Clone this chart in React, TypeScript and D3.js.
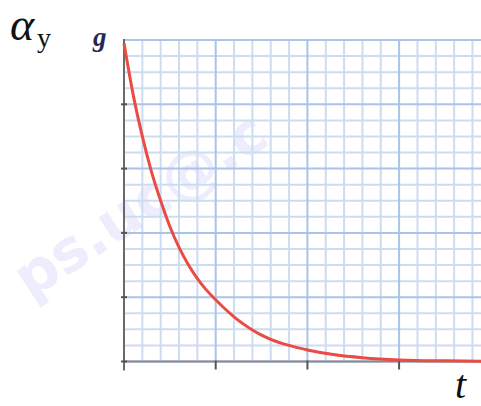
import React from "react";
import * as d3 from "d3";

const W = 481;
const H = 406;

// time in major-grid units, acceleration as fraction of g
const tValues = [0, 0.1, 0.2, 0.3, 0.4, 0.5, 0.6, 0.7, 0.8, 0.9, 1.0, 1.1, 1.2, 1.3, 1.4, 1.5, 1.6, 1.8, 2.0, 2.3, 2.6, 3.0, 3.5, 3.9];
const ayValues = [0.99, 0.83, 0.7, 0.59, 0.5, 0.42, 0.355, 0.302, 0.258, 0.222, 0.192, 0.164, 0.139, 0.117, 0.098, 0.082, 0.069, 0.05, 0.036, 0.021, 0.012, 0.005, 0.002, 0.001];

const xMajorTicks = [0, 1, 2, 3];
const yMajorTicks = [0, 0.2, 0.4, 0.6, 0.8, 1];

const yLabel = "α";
const ySub = "y";
const gLabel = "g";
const xLabel = "t";

export default function App() {
  const x = d3.scaleLinear().domain([0, 3.893]).range([124, 481]);
  const y = d3.scaleLinear().domain([0, 1]).range([361.5, 40]);

  const xMinor = d3.range(0, 3.9, 0.2);
  const yMinor = d3.range(0, 1.0001, 0.05);

  const line = d3
    .line<number>()
    .x((_, i) => x(tValues[i]))
    .y((d) => y(d))
    .curve(d3.curveMonotoneX);

  const isMajorX = (v: number) => Math.abs(v - Math.round(v)) < 1e-6;
  const isMajorY = (v: number) => Math.abs(v * 5 - Math.round(v * 5)) < 1e-6;

  return (
    <svg
      width={W}
      height={H}
      style={{ position: "absolute", left: 0, top: 0, background: "#fff" }}
    >
      {/* watermark */}
      <text
        x={0}
        y={0}
        transform="translate(30,300) rotate(-33)"
        fontFamily="DejaVu Sans, sans-serif"
        fontWeight="bold"
        fontSize={58}
        fill="#e4e4fc"
        opacity={0.65}
      >
        ps.uc@.c
      </text>

      {/* minor grid */}
      {xMinor.filter((v) => !isMajorX(v)).map((v, i) => (
        <line key={"xm" + i} x1={x(v)} x2={x(v)} y1={y(1)} y2={y(0)} stroke="#cddcf1" strokeWidth={2} />
      ))}
      {yMinor.filter((v) => !isMajorY(v)).map((v, i) => (
        <line key={"ym" + i} x1={x(0)} x2={W} y1={y(v)} y2={y(v)} stroke="#cddcf1" strokeWidth={2} />
      ))}
      {/* major grid */}
      {xMinor.filter((v) => isMajorX(v)).map((v, i) => (
        <line key={"xM" + i} x1={x(v)} x2={x(v)} y1={y(1)} y2={y(0)} stroke="#a8c4e8" strokeWidth={2} />
      ))}
      {yMinor.filter((v) => isMajorY(v)).map((v, i) => (
        <line key={"yM" + i} x1={x(0)} x2={W} y1={y(v)} y2={y(v)} stroke="#a8c4e8" strokeWidth={2} />
      ))}

      {/* axes */}
      <line x1={x(0)} x2={W} y1={y(0)} y2={y(0)} stroke="#8a8a8a" strokeWidth={2} />
      <line x1={x(0)} x2={x(0)} y1={y(1) - 1} y2={y(0) + 9} stroke="#6a6a6a" strokeWidth={2} />
      {yMajorTicks.slice(0, -1).map((v, i) => (
        <line key={"yt" + i} x1={x(0) - 3} x2={x(0) + 3} y1={y(v)} y2={y(v)} stroke="#555" strokeWidth={2} />
      ))}
      {xMajorTicks.slice(1).map((v, i) => (
        <line key={"xt" + i} x1={x(v)} x2={x(v)} y1={y(0) - 1} y2={y(0) + 8} stroke="#555" strokeWidth={2} />
      ))}

      {/* curve */}
      <path d={line(ayValues) || ""} fill="none" stroke="#ea4b43" strokeWidth={3} />

      {/* labels */}
      <text x={10} y={40} fontFamily="Liberation Serif, serif" fontStyle="italic" fontSize={46} fill="#111">
        {yLabel}
      </text>
      <text x={37} y={47} fontFamily="Liberation Serif, serif" fontSize={28} fill="#111">
        {ySub}
      </text>
      <text x={93} y={46} fontFamily="Liberation Serif, serif" fontStyle="italic" fontWeight="bold" fontSize={27} fill="#1f2a55">
        {gLabel}
      </text>
      <text x={455} y={398} fontFamily="Liberation Serif, serif" fontStyle="italic" fontSize={40} fill="#111">
        {xLabel}
      </text>
    </svg>
  );
}
